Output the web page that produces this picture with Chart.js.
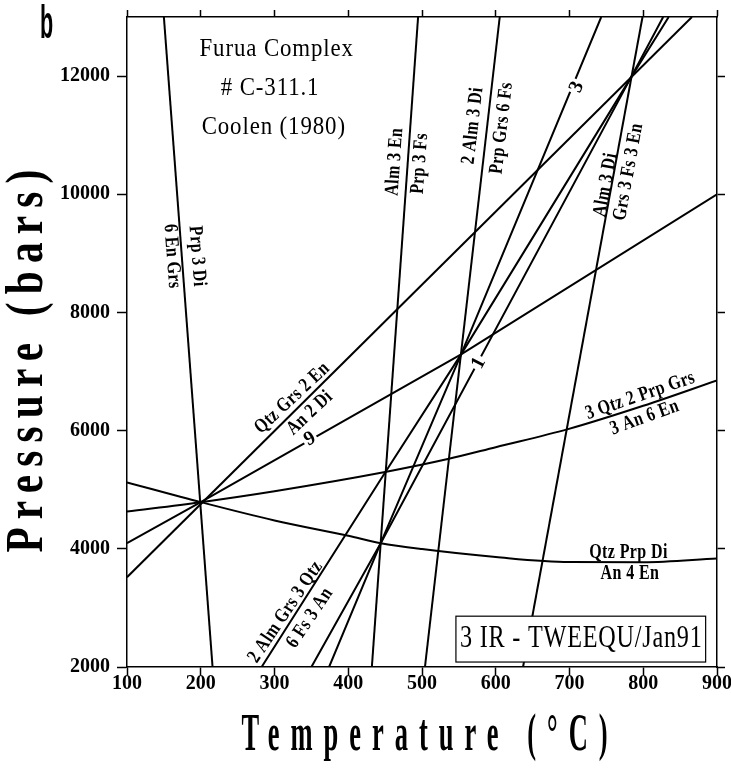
<!DOCTYPE html>
<html>
<head>
<meta charset="utf-8">
<title>Furua Complex C-311.1</title>
<script src="https://cdn.jsdelivr.net/npm/chart.js@4.4.0/dist/chart.umd.min.js"></script>
<style>
  body { margin: 0; background: #fff; }
  canvas { display: block; }
</style>
</head>
<body>
<canvas id="ptChart" width="731" height="773"></canvas>
<script>
// tick values
const tempTicks = [100, 200, 300, 400, 500, 600, 700, 800, 900];
const pressTicks = [2000, 4000, 6000, 8000, 10000, 12000];

// reaction lines, T in deg C and P in bars
const prpDiT = [150, 216];
const prpDiP = [13000, 2000];

const almEnT = [432, 494.7];
const almEnP = [2000, 13000];

const alm2DiT = [504, 605.4];
const alm2DiP = [2000, 13000];

const almDiT = [637, 799];
const almDiP = [2000, 13000];

const qtzGrsT = [100, 866];
const qtzGrsP = [3520, 13000];

const line9T = [100, 200, 553, 900];
const line9P = [4096, 4790, 7290, 10000];

const almGrsQtzT = [282.5, 450, 553, 783, 834.5];
const almGrsQtzP = [2000, 5293, 7290, 11970, 13000];

const line3T = [374, 444, 553, 743];
const line3P = [2000, 4096, 7290, 13000];

const line1T = [350, 444, 783, 827];
const line1P = [2000, 4096, 11970, 13000];

// the two curved reactions
const qtzPrpDiT = [100, 200, 300, 400, 444, 500, 600, 700, 800, 900];
const qtzPrpDiP = [5125, 4790, 4480, 4220, 4096, 3995, 3860, 3775, 3772, 3835];

const qtz3PrpT = [100, 200, 300, 450, 535, 600, 698, 800, 900];
const qtz3PrpP = [4630, 4790, 4975, 5300, 5519, 5720, 6025, 6420, 6850];

// reaction labels: text, T, P, angle
const reactionLabels = [
  ['Prp 3 Di', 195, 8950, 85.7],
  ['6 En Grs', 161, 8950, 85.7],
  ['Alm 3 En', 463, 10550, -85.9],
  ['Prp 3 Fs', 497, 10520, -85.9],
  ['2 Alm 3 Di', 569, 11160, -83.4],
  ['Prp Grs 6 Fs', 608, 11120, -83.4],
  ['Alm 3 Di', 749, 10160, -79.6],
  ['Grs 3 Fs 3 En', 780, 10380, -79.6],
  ['Qtz Grs 2 En', 324, 6550, -43],
  ['An 2 Di', 348, 6300, -43],
  ['2 Alm Grs 3 Qtz', 315, 2930, -56],
  ['6 Fs 3 An', 348, 2830, -56],
  ['3 Qtz 2 Prp Grs', 796, 6590, -19],
  ['3 An 6 En', 802, 6220, -20],
  ['Qtz Prp Di', 780, 3940, 0],
  ['An 4 En', 782, 3585, 0]
];

const lineNumbers = [
  ['9', 348, 5860, -30],
  ['3', 710, 11815, -67],
  ['1', 577, 7143, -62]
];

const infoLines = [
  ['Furua Complex', 303, 12455],
  ['# C-311.1', 294, 11800],
  ['Coolen (1980)', 299, 11140]
];

const SERIF = '"Liberation Serif", "Times New Roman", serif';

function pts(ts, ps) {
  return ts.map((t, i) => ({ x: t, y: ps[i] }));
}

function reaction(ts, ps, curved) {
  return {
    data: pts(ts, ps),
    showLine: true,
    borderColor: '#000',
    borderWidth: 2,
    pointRadius: 0,
    cubicInterpolationMode: curved ? 'monotone' : 'default',
    tension: 0
  };
}

function drawText(ctx, text, x, y, o) {
  ctx.save();
  ctx.translate(x, y);
  ctx.rotate((o.angle || 0) * Math.PI / 180);
  ctx.scale(o.sx || 1, 1);
  ctx.font = o.font;
  ctx.letterSpacing = (o.spacing || 0) + 'px';
  ctx.textAlign = o.align || 'center';
  ctx.textBaseline = o.baseline || 'middle';
  if (o.knockout) {
    const w = ctx.measureText(text).width + 4;
    ctx.fillStyle = '#fff';
    ctx.fillRect(-w / 2, -o.size * 0.42, w, o.size * 0.84);
  }
  ctx.fillStyle = '#000';
  ctx.fillText(text, 0, 0);
  ctx.restore();
}

const annotations = {
  id: 'annotations',
  afterDraw(chart) {
    const ctx = chart.ctx;
    const xs = chart.scales.x, ys = chart.scales.y;
    const px = v => xs.getPixelForValue(v);
    const py = v => ys.getPixelForValue(v);

    reactionLabels.forEach(([t, T, P, a]) => {
      drawText(ctx, t, px(T), py(P), { font: 'bold 20px ' + SERIF, sx: 0.8, angle: a, spacing: 0.5 });
    });

    lineNumbers.forEach(([t, T, P, a]) => {
      drawText(ctx, t, px(T), py(P), { font: 'bold 20px ' + SERIF, angle: a, knockout: true, size: 20 });
    });

    infoLines.forEach(([t, T, P]) => {
      drawText(ctx, t, px(T), py(P), { font: '26px ' + SERIF, sx: 0.88, spacing: 1 });
    });

    // label box in lower right
    const bx1 = px(546), bx2 = px(884.6), by1 = py(2860), by2 = py(2084);
    ctx.save();
    ctx.fillStyle = '#fff';
    ctx.fillRect(bx1, by1, bx2 - bx1, by2 - by1);
    ctx.strokeStyle = '#000';
    ctx.lineWidth = 1.2;
    ctx.strokeRect(bx1, by1, bx2 - bx1, by2 - by1);
    ctx.restore();
    drawText(ctx, '3 IR - TWEEQU/Jan91', px(716), py(2342), {
      font: '31px ' + SERIF, sx: 0.78, spacing: 1, baseline: 'alphabetic'
    });

    // axis titles
    const area = chart.chartArea;
    drawText(ctx, 'Temperature (°C)', area.left + 303, 750, {
      font: 'bold 53px ' + SERIF, sx: 0.5, spacing: 22, baseline: 'alphabetic'
    });
    drawText(ctx, 'Pressure (bars)', 42, 357, {
      font: 'bold 53px ' + SERIF, sx: 0.78, spacing: 10.5, angle: -90, baseline: 'alphabetic'
    });

    // panel letter
    drawText(ctx, 'b', 40, 38, {
      font: 'bold 46px "Liberation Sans", Arial, sans-serif', sx: 0.47, align: 'left', baseline: 'alphabetic'
    });
  }
};

const tickFont = { family: SERIF, size: 20, weight: 'bold', lineHeight: 1 };

new Chart(document.getElementById('ptChart'), {
  type: 'scatter',
  data: {
    datasets: [
      reaction(prpDiT, prpDiP),
      reaction(almEnT, almEnP),
      reaction(alm2DiT, alm2DiP),
      reaction(almDiT, almDiP),
      reaction(qtzGrsT, qtzGrsP),
      reaction(line9T, line9P),
      reaction(almGrsQtzT, almGrsQtzP),
      reaction(line3T, line3P),
      reaction(line1T, line1P),
      reaction(qtzPrpDiT, qtzPrpDiP, true),
      reaction(qtz3PrpT, qtz3PrpP, true)
    ]
  },
  options: {
    responsive: false,
    animation: false,
    layout: { padding: 0 },
    plugins: {
      legend: { display: false },
      tooltip: { enabled: false }
    },
    scales: {
      x: {
        type: 'linear',
        position: 'bottom',
        min: 100,
        max: 900,
        afterBuildTicks: s => { s.ticks = tempTicks.map(v => ({ value: v })); },
        afterFit: s => { s.height = 106; },
        ticks: { color: '#000', font: tickFont, padding: -1, maxRotation: 0, autoSkip: false, callback: v => String(v) },
        grid: { drawOnChartArea: false, color: '#000', tickLength: 8, tickWidth: 1.5 },
        border: { color: '#000', width: 1.5 }
      },
      x2: {
        type: 'linear',
        position: 'top',
        min: 100,
        max: 900,
        afterBuildTicks: s => { s.ticks = tempTicks.map(v => ({ value: v })); },
        afterFit: s => { s.height = 15; },
        ticks: { display: false },
        grid: { drawOnChartArea: false, color: '#000', tickLength: 7, tickWidth: 1.5 },
        border: { color: '#000', width: 1.5 }
      },
      y: {
        type: 'linear',
        position: 'left',
        min: 2000,
        max: 13000,
        afterBuildTicks: s => { s.ticks = pressTicks.map(v => ({ value: v })); },
        afterFit: s => { s.width = 127; },
        ticks: { color: '#000', font: tickFont, padding: 7, autoSkip: false, callback: v => String(v) },
        grid: { drawOnChartArea: false, color: '#000', tickLength: 10, tickWidth: 1.5 },
        border: { color: '#000', width: 1.5 }
      },
      y2: {
        type: 'linear',
        position: 'right',
        min: 2000,
        max: 13000,
        afterBuildTicks: s => { s.ticks = pressTicks.map(v => ({ value: v })); },
        afterFit: s => { s.width = 13; },
        ticks: { display: false },
        grid: { drawOnChartArea: false, color: '#000', tickLength: 8, tickWidth: 1.5 },
        border: { color: '#000', width: 1.5 }
      }
    }
  },
  plugins: [annotations]
});
</script>
</body>
</html>
